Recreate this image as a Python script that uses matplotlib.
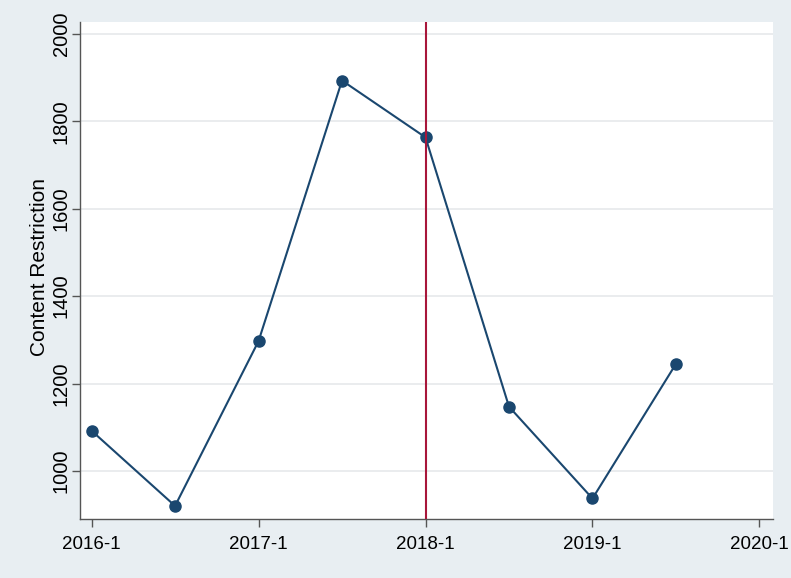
import matplotlib.pyplot as plt

# half-year observations
periods = [2016.0, 2016.5, 2017.0, 2017.5, 2018.0, 2018.5, 2019.0, 2019.5]
content_restriction = [1092, 920, 1297, 1893, 1763, 1147, 937, 1245]

xticks = [2016, 2017, 2018, 2019, 2020]
xticklabels = ["2016-1", "2017-1", "2018-1", "2019-1", "2020-1"]
yticks = [1000, 1200, 1400, 1600, 1800, 2000]
event = 2018.0

plt.rcParams["font.family"] = ["Liberation Sans", "DejaVu Sans"]

bg = "#e8eef2"
fig = plt.figure(figsize=(7.91, 5.78), dpi=100, facecolor=bg)
ax = fig.add_axes([0.101, 0.102, 0.876, 0.860])
ax.set_facecolor("white")

ax.plot(periods, content_restriction, color="#1a476f", lw=1.5,
        marker="o", ms=8, zorder=3)
ax.axvline(event, color="#a8163a", lw=1.5, zorder=4)

ax.set_xlim(2015.93, 2020.08)
ax.set_ylim(890, 2027)
ax.set_xticks(xticks)
ax.set_xticklabels(xticklabels)
ax.set_yticks(yticks)
ax.set_yticklabels([str(v) for v in yticks], rotation=90, va="center")
ax.tick_params(length=5.5, color="#555555", width=1)
ax.tick_params(axis="x", pad=7, labelsize=13.5)
ax.tick_params(axis="y", pad=1.2, labelsize=14.5)
ax.set_ylabel("Content Restriction", fontsize=15)
ax.yaxis.set_label_coords(-0.044, 0.508)

ax.grid(axis="y", color="#e6e9eb", lw=1.2)
ax.set_axisbelow(True)
for side in ("top", "right"):
    ax.spines[side].set_visible(False)
for side in ("left", "bottom"):
    ax.spines[side].set_color("#555555")
    ax.spines[side].set_linewidth(1)

fig.savefig("out.png", dpi=100, facecolor=bg)
